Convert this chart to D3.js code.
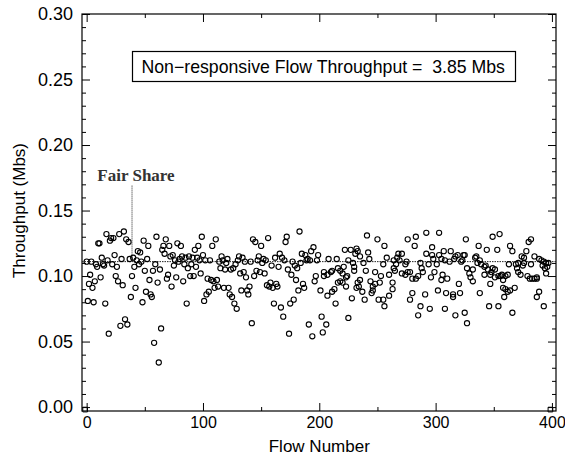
<!DOCTYPE html>
<html>
<head>
<meta charset="utf-8">
<script src="https://cdn.jsdelivr.net/npm/d3@7"></script>
<style>
	body { margin: 0; background: #fff; }
</style>
</head>
<body>
<div id="chart"></div>
<script>
'use strict';

// [flow number, throughput in Mbs]
const flows000 = [
	[0,.111],[1,.081],[2,.094],[3,.101],[4,.111],[5,.091],[6,.080],[7,.096],[8,.109],[9,.107],
	[10,.125],[11,.125],[12,.099],[13,.114],[14,.109],[15,.108],[16,.079],[17,.132],[18,.112],[19,.056],
	[20,.127],[21,.129],[22,.109],[23,.129],[24,.116],[25,.100],[26,.107],[27,.096],[28,.132],[29,.062],
	[30,.113],[31,.093],[32,.134],[33,.067],[34,.128],[35,.063],[36,.126],[37,.113],[38,.084],[39,.100],
	[40,.114],[41,.107],[42,.091],[43,.112],[44,.119],[45,.109],[46,.118],[47,.111],[48,.080],[49,.127],
	[50,.104],[51,.088],[52,.113],[53,.123],[54,.097],[55,.086],[56,.084],[57,.104],[58,.049],[59,.109],
	[60,.130],[61,.095],[62,.034],[63,.105],[64,.060],[65,.120],[66,.123],[67,.117],[68,.128],[69,.098],
	[70,.101],[71,.123],[72,.115],[73,.092],[74,.116],[75,.108],[76,.112],[77,.099],[78,.125],[79,.111],
	[80,.113],[81,.123],[82,.115],[83,.096],[84,.109],[85,.114],[86,.079],[87,.106],[88,.115],[89,.100],
	[90,.109],[91,.114],[92,.100],[93,.120],[94,.107],[95,.114],[96,.123],[97,.112],[98,.102],[99,.130]
];
const flows100 = [
	[100,.116],[101,.081],[102,.112],[103,.086],[104,.098],[105,.088],[106,.112],[107,.097],[108,.123],[109,.096],
	[110,.091],[111,.128],[112,.097],[113,.092],[114,.111],[115,.106],[116,.115],[117,.112],[118,.091],[119,.105],
	[120,.110],[121,.113],[122,.091],[123,.086],[124,.105],[125,.084],[126,.106],[127,.079],[128,.109],[129,.075],
	[130,.112],[131,.115],[132,.102],[133,.089],[134,.114],[135,.103],[136,.111],[137,.099],[138,.089],[139,.086],
	[140,.092],[141,.111],[142,.064],[143,.128],[144,.100],[145,.126],[146,.104],[147,.112],[148,.115],[149,.103],
	[150,.123],[151,.110],[152,.113],[153,.102],[154,.112],[155,.093],[156,.129],[157,.092],[158,.095],[159,.108],
	[160,.091],[161,.079],[162,.114],[163,.094],[164,.092],[165,.107],[166,.117],[167,.076],[168,.114],[169,.069],
	[170,.112],[171,.126],[172,.130],[173,.105],[174,.056],[175,.079],[176,.101],[177,.111],[178,.082],[179,.108],
	[180,.097],[181,.106],[182,.089],[183,.134],[184,.110],[185,.117],[186,.094],[187,.091],[188,.116],[189,.112],
	[190,.113],[191,.063],[192,.112],[193,.119],[194,.054],[195,.122],[196,.096],[197,.100],[198,.112],[199,.116]
];
const flows200 = [
	[201,.089],[202,.069],[203,.057],[204,.100],[204,.103],[206,.063],[207,.101],[207,.085],[208,.113],[210,.103],
	[211,.088],[211,.104],[213,.090],[214,.079],[215,.113],[216,.106],[216,.095],[218,.104],[218,.096],[220,.095],
	[220,.102],[221,.107],[222,.120],[223,.099],[223,.092],[224,.100],[225,.068],[225,.112],[227,.120],[228,.083],
	[229,.110],[230,.107],[230,.104],[231,.117],[232,.121],[232,.091],[233,.095],[233,.119],[234,.092],[235,.115],
	[235,.097],[237,.088],[238,.110],[239,.082],[240,.104],[241,.131],[242,.118],[243,.113],[244,.096],[245,.087],
	[246,.089],[246,.092],[248,.103],[248,.094],[250,.128],[251,.082],[252,.095],[253,.100],[255,.109],[255,.082],
	[256,.077],[256,.123],[258,.114],[260,.085],[260,.101],[263,.095],[263,.090],[264,.112],[264,.106],[265,.104],
	[266,.109],[267,.114],[268,.117],[269,.112],[271,.117],[271,.102],[274,.109],[274,.101],[275,.111],[276,.128],
	[276,.103],[278,.103],[278,.082],[280,.087],[280,.098],[282,.123],[283,.130],[283,.098],[285,.100],[285,.070],
	[287,.077],[287,.110],[288,.106],[289,.103],[291,.086],[292,.133],[292,.117],[294,.109],[295,.075],[296,.099],
	[297,.116],[297,.122],[298,.113],[299,.103]
];
const flows300 = [
	[301,.109],[302,.089],[303,.133],[303,.116],[305,.113],[305,.097],[306,.101],[307,.119],[308,.112],[308,.075],
	[309,.087],[310,.098],[312,.111],[313,.119],[315,.084],[315,.086],[316,.113],[317,.115],[317,.070],[319,.116],
	[320,.094],[321,.087],[322,.111],[323,.112],[324,.116],[325,.072],[325,.116],[326,.128],[327,.106],[327,.064],
	[329,.102],[330,.099],[332,.105],[332,.096],[334,.114],[335,.115],[336,.110],[337,.123],[338,.112],[338,.087],
	[339,.109],[342,.107],[342,.101],[343,.108],[344,.120],[345,.105],[346,.077],[347,.094],[347,.101],[348,.103],
	[349,.130],[349,.106],[351,.099],[351,.105],[353,.120],[354,.100],[354,.077],[355,.132],[356,.100],[357,.101],
	[358,.097],[358,.091],[359,.084],[360,.100],[360,.090],[362,.101],[362,.088],[363,.109],[364,.123],[364,.089],
	[366,.119],[366,.072],[368,.091],[369,.109],[370,.106],[371,.110],[371,.103],[373,.101],[374,.115],[375,.108],
	[376,.114],[376,.110],[378,.119],[379,.100],[380,.126],[381,.098],[382,.128],[382,.109],[383,.098],[385,.115],
	[385,.098],[387,.098],[387,.099],[387,.084],[389,.088],[389,.113],[391,.112],[392,.108],[393,.111],[393,.077],
	[394,.106],[395,.110],[395,.102],[396,.107],[397,.110]
];
// the two little square marks sitting on the x axis
const cornerMarks = [[0, 0], [400, 0]];

const xTicks = [0, 100, 200, 300, 400];
const xMinorTicks = [50, 150, 250, 350];
const yTicks = [0.00, 0.05, 0.10, 0.15, 0.20, 0.25, 0.30];
const fairShare = 0.111;
const fairShareFlow = 39;		// where the label's pointer drops
const nonResponsiveMbs = 3.85;

const sans = '"Liberation Sans", Arial, Helvetica, sans-serif';
const serif = '"Liberation Serif", "Times New Roman", serif';

const width = 565, height = 464;
const margin = { top: 14, right: 9, bottom: 53, left: 82 };
const w = width - margin.left - margin.right;
const h = height - margin.top - margin.bottom;

const data = flows000.concat(flows100, flows200, flows300);

const xScale = d3.scaleLinear()
	.domain([-4, 403.5])
	.range([0, w])
	;
const yScale = d3.scaleLinear()
	.domain([-0.003, 0.30])
	.range([h, 0])
	;

const svg = d3.select("#chart")
	.append("svg")
		.attr("width", width)
		.attr("height", height)
	;
const bounds = svg.append("g")
	.attr("transform", `translate(${margin.left},${margin.top})`)
	;

// minor y ticks every 0.01
const yMinorTicks = d3.range(1, 30).map(i => i / 100).filter(v => Math.round(v * 100) % 5 !== 0);

function axisStyle(size) {
	return g => {
		g.select(".domain").remove();
		g.attr("font-size", size).attr("font-family", sans);
		g.selectAll("line").attr("stroke", "#000");
		g.selectAll("text").attr("fill", "#000");
	};
}

// bottom
bounds.append("g")
	.attr("transform", `translate(0,${h})`)
	.call(d3.axisBottom(xScale).tickValues(xTicks).tickSize(-8).tickPadding(6).tickFormat(d3.format("d")))
	.call(axisStyle(16))
	;
bounds.append("g")
	.attr("transform", `translate(0,${h})`)
	.call(d3.axisBottom(xScale).tickValues(xMinorTicks).tickSize(-4).tickFormat(""))
	.call(axisStyle(16))
	;
// top
bounds.append("g")
	.call(d3.axisTop(xScale).tickValues(xTicks).tickSize(-8).tickFormat(""))
	.call(axisStyle(16))
	;
bounds.append("g")
	.call(d3.axisTop(xScale).tickValues(xMinorTicks).tickSize(-4).tickFormat(""))
	.call(axisStyle(16))
	;
// left
bounds.append("g")
	.call(d3.axisLeft(yScale).tickValues(yTicks).tickSize(-8).tickPadding(9).tickFormat(d3.format(".2f")))
	.call(axisStyle(18))
	;
bounds.append("g")
	.call(d3.axisLeft(yScale).tickValues(yMinorTicks).tickSize(-4).tickFormat(""))
	.call(axisStyle(18))
	;
// right
bounds.append("g")
	.attr("transform", `translate(${w},0)`)
	.call(d3.axisRight(yScale).tickValues(yTicks).tickSize(-8).tickFormat(""))
	.call(axisStyle(18))
	;
bounds.append("g")
	.attr("transform", `translate(${w},0)`)
	.call(d3.axisRight(yScale).tickValues(yMinorTicks).tickSize(-4).tickFormat(""))
	.call(axisStyle(18))
	;

// frame
bounds.append("rect")
	.attr("x", 0)
	.attr("y", 0)
	.attr("width", w)
	.attr("height", h)
	.attr("fill", "none")
	.attr("stroke", "#000")
	.attr("stroke-width", 1.2)
	;

// fair share line + label
bounds.append("line")
	.attr("x1", 0)
	.attr("x2", w)
	.attr("y1", yScale(fairShare))
	.attr("y2", yScale(fairShare))
	.attr("stroke", "#222")
	.attr("stroke-width", 1)
	.attr("stroke-dasharray", "1.5,1")
	;
bounds.append("line")
	.attr("x1", xScale(fairShareFlow))
	.attr("x2", xScale(fairShareFlow))
	.attr("y1", yScale(0.169))
	.attr("y2", yScale(fairShare))
	.attr("stroke", "#222")
	.attr("stroke-width", 1)
	.attr("stroke-dasharray", "1,1")
	;
bounds.append("text")
	.attr("x", xScale(fairShareFlow) + 4)
	.attr("y", yScale(0.1726))
	.attr("text-anchor", "middle")
	.attr("font-family", serif)
	.attr("font-weight", "bold")
	.attr("font-size", 17)
	.attr("fill", "#333")
	.text("Fair Share")
	;

// the flows
bounds.append("g")
	.selectAll("circle")
	.data(data)
	.join("circle")
		.attr("cx", d => xScale(d[0]))
		.attr("cy", d => yScale(d[1]))
		.attr("r", 2.6)
		.attr("fill", "none")
		.attr("stroke", "#000")
		.attr("stroke-width", 1.1)
		;

bounds.append("g")
	.selectAll("path")
	.data(cornerMarks)
	.join("path")
		.attr("transform", d => `translate(${xScale(d[0]) - 1.5},${yScale(d[1]) + 2.5})`)
		.attr("d", d3.symbol(d3.symbolSquare, 22))
		.attr("fill", "none")
		.attr("stroke", "#000")
		.attr("stroke-width", 1)
		;

// legend box
const legend = svg.append("g")
	.attr("transform", "translate(132.5,51.5)")
	;
legend.append("rect")
	.attr("width", 383)
	.attr("height", 30)
	.attr("fill", "#fff")
	.attr("stroke", "#000")
	.attr("stroke-width", 1.2)
	;
legend.append("text")
	.attr("x", 9)
	.attr("y", 21)
	.attr("font-family", sans)
	.attr("font-size", 17.7)
	.attr("fill", "#000")
	.style("white-space", "pre")
	.text(`Non\u2212responsive Flow Throughput =  ${nonResponsiveMbs} Mbs`)
	;

// axis titles
svg.append("text")
	.attr("x", margin.left + xScale(200))
	.attr("y", 452)
	.attr("text-anchor", "middle")
	.attr("font-family", sans)
	.attr("font-size", 17)
	.attr("fill", "#000")
	.text("Flow Number")
	;
svg.append("text")
	.attr("transform", `translate(25,${margin.top + yScale(0.15)}) rotate(-90)`)
	.attr("text-anchor", "middle")
	.attr("font-family", sans)
	.attr("font-size", 17)
	.attr("fill", "#000")
	.text("Throughput (Mbs)")
	;
</script>
</body>
</html>
